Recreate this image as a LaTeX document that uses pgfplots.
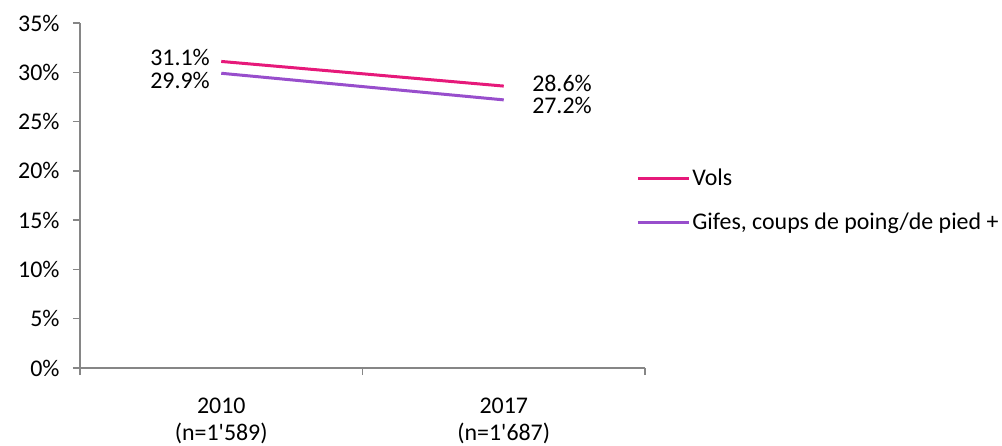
\documentclass[border=0pt]{standalone}
\usepackage{pgfplots}
\pgfplotsset{compat=1.18}
\usepackage{fontspec}
\newfontfamily\calfont{Carlito}
\definecolor{vols}{RGB}{230,25,122}
\definecolor{gifes}{RGB}{152,78,204}
\definecolor{axgray}{RGB}{134,134,134}
\begin{document}
\begin{tikzpicture}[font=\calfont\fontsize{24}{26}\selectfont]
\begin{axis}[name=ax, scale only axis, width=565bp, height=345bp,
  xmin=-0.5, xmax=1.5, ymin=0, ymax=35, clip=false,
  axis x line=bottom, axis y line=left,
  axis line style={axgray, line width=1.3bp, -},
  every tick/.style={axgray, line width=1.3bp},
  tick align=outside, major tick length=7bp,
  xtick pos=bottom, ytick pos=left,
  xtick={-0.5,0.5,1.5}, xticklabels={},
  extra x ticks={0,1},
  extra x tick labels={{2010\\(n=1'589)},{2017\\(n=1'687)}},
  extra x tick style={major tick length=0pt, tick label style={align=center, yshift=-26bp,
    font=\calfont\fontsize{24}{28}\selectfont}},
  ytick={0,5,10,15,20,25,30,35},
  yticklabels={0\%,5\%,10\%,15\%,20\%,25\%,30\%,35\%},
  yticklabel style={xshift=-10bp},
  legend style={draw=none, fill=none, at={(rel axis cs:0.979,0.486)}, anchor=west,
    row sep=22bp, font=\calfont\fontsize{24}{26}\selectfont},
  legend cell align=left,
  legend image code/.code={\draw[#1, line width=3bp] (0bp,0bp) -- (51bp,0bp);},
  /tikz/every even column/.append style={column sep=0bp},
]
\addplot[vols, line width=3bp, no marks] coordinates {(0,31.1) (1,28.6)}
  node[pos=0, anchor=east, text=black, inner sep=0pt, xshift=-10bp, yshift=4bp] {31.1\%}
  node[pos=1, anchor=west, text=black, inner sep=0pt, xshift=27bp, yshift=3bp] {28.6\%};
\addlegendentry{Vols}
\addplot[gifes, line width=3bp, no marks] coordinates {(0,29.9) (1,27.2)}
  node[pos=0, anchor=east, text=black, inner sep=0pt, xshift=-10bp, yshift=-7bp] {29.9\%}
  node[pos=1, anchor=west, text=black, inner sep=0pt, xshift=27bp, yshift=-6bp] {27.2\%};
\addlegendentry{Gifes, coups de poing/de pied +}
\end{axis}
\pgfresetboundingbox
\path ([shift={(-80bp,-78bp)}]ax.south west) rectangle ([shift={(357bp,23bp)}]ax.north east);
\end{tikzpicture}
\end{document}
